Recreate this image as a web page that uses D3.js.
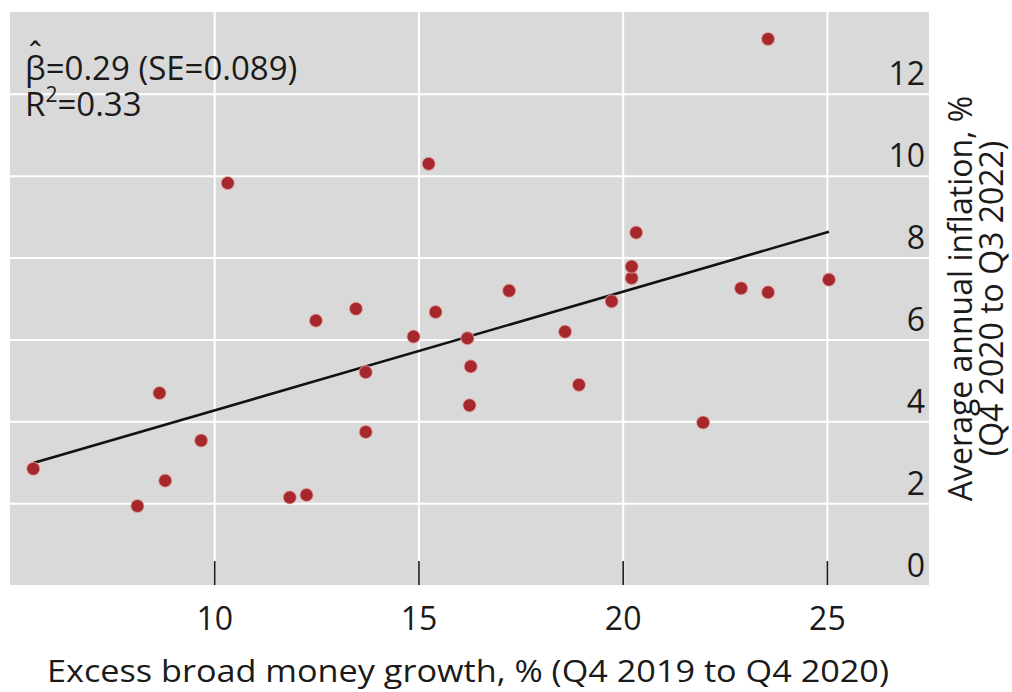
<!DOCTYPE html>
<html>
<head>
<meta charset="utf-8">
<script src="https://cdn.jsdelivr.net/npm/d3@7"></script>
<style>
  html, body { margin: 0; padding: 0; background: #ffffff; }
  svg { display: block; }
  text { font-family: "Open Sans", "Noto Sans", sans-serif; fill: #1a1a1a; }
</style>
</head>
<body>
<svg id="chart" width="1012" height="692"></svg>
<script>
// Excess broad money growth (Q4 2019 to Q4 2020), %
const moneyGrowth = [
  5.57, 8.12, 8.66, 8.80, 9.68, 10.33, 11.85, 12.26, 12.49, 13.47,
  13.71, 13.71, 14.88, 15.25, 15.42, 16.20, 16.28, 16.25, 17.22, 18.59,
  18.93, 19.73, 20.22, 20.22, 20.33, 21.97, 22.90, 23.56, 23.56, 25.05
];
// Average annual inflation (Q4 2020 to Q3 2022), %
const inflation = [
  2.84, 1.93, 4.69, 2.55, 3.53, 9.82, 2.14, 2.20, 6.46, 6.75,
  5.20, 3.74, 6.07, 10.29, 6.67, 6.03, 5.34, 4.39, 7.19, 6.19,
  4.89, 6.93, 7.50, 7.78, 8.61, 3.97, 7.25, 7.15, 13.34, 7.46
];
// Fitted OLS line: inflation = intercept + slope * growth
const fitIntercept = [1.365];
const fitSlope = [0.29];

const xTicks = [10, 15, 20, 25];
const yTicks = [0, 2, 4, 6, 8, 10, 12];
const xTitle = "Excess broad money growth, % (Q4 2019 to Q4 2020)";
const yTitleLines = ["Average annual inflation, %", "(Q4 2020 to Q3 2022)"];
const betaText = ["β", "ˆ", "=0.29 (SE=0.089)"];
const r2Text = ["R", "2", "=0.33"];

const svg = d3.select("#chart");
const panel = { left: 10, right: 929, top: 12, bottom: 585 };

const x = d3.scaleLinear().domain([5, 27.5]).range([panel.left, panel.right]);
const y = d3.scaleLinear().domain([0, 14]).range([panel.bottom, panel.top]);

// grey plotting area
svg.append("rect")
  .attr("x", panel.left).attr("y", panel.top)
  .attr("width", panel.right - panel.left)
  .attr("height", panel.bottom - panel.top)
  .attr("fill", "#d9d9d9");

// white gridlines
const gridY = svg.append("g")
  .attr("transform", `translate(${panel.left},0)`)
  .call(d3.axisLeft(y).tickValues(yTicks.filter(d => d > 0))
    .tickSize(-(panel.right - panel.left)).tickFormat(""));
const gridX = svg.append("g")
  .attr("transform", `translate(0,${panel.bottom})`)
  .call(d3.axisBottom(x).tickValues(xTicks)
    .tickSize(-(panel.bottom - panel.top)).tickFormat(""));
[gridY, gridX].forEach(g => {
  g.select(".domain").remove();
  g.selectAll("line").attr("stroke", "#ffffff").attr("stroke-width", 2);
});

// x axis: short dark ticks inside the panel and labels below
const xAxis = svg.append("g")
  .attr("transform", `translate(0,${panel.bottom})`)
  .call(d3.axisBottom(x).tickValues(xTicks).tickSize(-24).tickPadding(22));
xAxis.select(".domain").remove();
xAxis.selectAll("line").attr("stroke", "#1a1a1a").attr("stroke-width", 1.6);
xAxis.selectAll("text")
  .attr("font-size", 32).attr("fill", "#1a1a1a")
  .style("font-family", "'Open Sans', sans-serif");

// y axis labels sit inside the panel's right edge, just above each gridline
const yAxis = svg.append("g")
  .attr("transform", `translate(925,0)`)
  .call(d3.axisLeft(y).tickValues(yTicks).tickSize(0).tickPadding(0));
yAxis.select(".domain").remove();
yAxis.selectAll("text")
  .attr("dy", -9)
  .attr("font-size", 32).attr("fill", "#1a1a1a")
  .style("font-family", "'Open Sans', sans-serif");

// regression line across the observed range
const xMin = d3.min(moneyGrowth), xMax = d3.max(moneyGrowth);
const fit = v => fitIntercept[0] + fitSlope[0] * v;
svg.append("line")
  .attr("x1", x(xMin)).attr("y1", y(fit(xMin)))
  .attr("x2", x(xMax)).attr("y2", y(fit(xMax)))
  .attr("stroke", "#111111").attr("stroke-width", 2.6);

// country observations
const points = moneyGrowth.map((g, i) => ({ g, inf: inflation[i] }));
svg.append("g").selectAll("circle")
  .data(points)
  .join("circle")
  .attr("cx", d => x(d.g))
  .attr("cy", d => y(d.inf))
  .attr("r", 6.6)
  .attr("fill", "#a6272c")
  .attr("stroke", "#e7b3b0")
  .attr("stroke-opacity", 0.6)
  .attr("stroke-width", 1.2);

// regression statistics: beta-hat line (hat drawn as a tspan over the beta)
const statSize = 33;
const beta = svg.append("text")
  .attr("font-size", statSize);
const bChar = beta.append("tspan").attr("x", 25).attr("y", 80).text(betaText[0]);
const bW = bChar.node().getComputedTextLength();
beta.append("tspan")
  .attr("x", 25 + bW / 2).attr("y", 66)
  .attr("text-anchor", "middle")
  .text(betaText[1]);
beta.append("tspan")
  .attr("x", 25 + bW).attr("y", 80)
  .text(betaText[2]);

const r2 = svg.append("text")
  .attr("x", 25).attr("y", 116)
  .attr("font-size", statSize);
r2.append("tspan").text(r2Text[0]);
r2.append("tspan").attr("font-size", 21).attr("dy", -14).text(r2Text[1]);
r2.append("tspan").attr("dy", 14).text(r2Text[2]);

// x axis title
svg.append("text")
  .attr("x", (47 + 889) / 2).attr("y", 682)
  .attr("text-anchor", "middle")
  .attr("font-size", 31)
  .attr("textLength", 842)
  .attr("lengthAdjust", "spacingAndGlyphs")
  .text(xTitle);

// y axis title, rotated, two lines
const midY = (panel.top + panel.bottom) / 2;
[972, 1003].forEach((bx, i) => {
  svg.append("text")
    .attr("transform", `translate(${bx},${midY}) rotate(-90)`)
    .attr("text-anchor", "middle")
    .attr("font-size", 32)
    .text(yTitleLines[i]);
});
</script>
</body>
</html>
